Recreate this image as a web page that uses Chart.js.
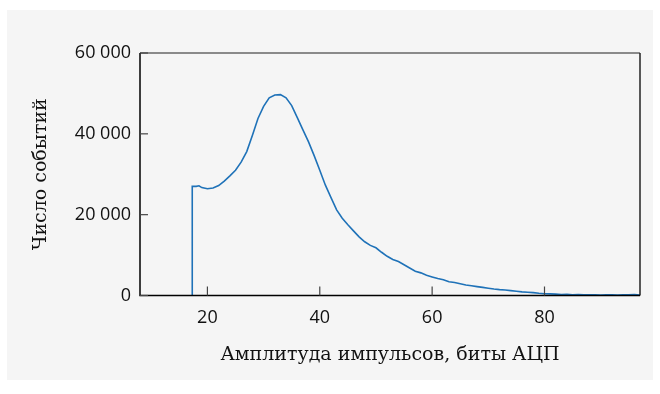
<!DOCTYPE html>
<html>
<head>
<meta charset="utf-8">
<script src="https://cdn.jsdelivr.net/npm/chart.js@4/dist/chart.umd.min.js"></script>
<style>
  body { margin: 0; background: #fff; }
  #panel { position: absolute; left: 7px; top: 10px; width: 646px; height: 370px; background: #f5f5f5; }
</style>
</head>
<body>
<div id="panel"><canvas id="chart" width="646" height="370"></canvas></div>
<script>
// amplitude (ADC bits) and event counts
const amplitude = [17.3, 17.3, 18, 18.5, 19, 20, 21, 22, 23, 24, 25, 26, 27, 28, 29, 30, 31, 32, 33, 34, 35, 36, 37, 38, 39, 40,
  41, 42, 43, 44, 45, 46, 47, 48, 49, 50, 51, 52, 53, 54, 55, 56, 57, 58, 59, 60,
  61, 62, 63, 64, 65, 66, 67, 68, 69, 70, 71, 72, 73, 74, 75, 76, 77, 78, 79, 80,
  81, 82, 83, 84, 85, 86, 87, 88, 89, 90, 91, 92, 93, 94, 95, 96, 97]
const events = [0, 27000, 27000, 27150, 26700, 26400, 26600, 27200, 28300, 29600, 31000, 33000, 35600, 39600, 43800, 46800, 48900, 49600, 49700, 48900, 47000, 44000, 41000, 38000, 34600, 31000,
  27300, 24200, 21200, 19100, 17500, 16000, 14500, 13300, 12400, 11800, 10700, 9700, 8900, 8400, 7600, 6800, 6000, 5600, 5000, 4600,
  4200, 3900, 3400, 3200, 2900, 2600, 2400, 2200, 2000, 1800, 1600, 1450, 1350, 1200, 1050, 900, 800, 700, 550, 450,
  400, 350, 250, 300, 200, 250, 150, 200, 150, 100, 200, 150, 100, 200, 150, 250, 100]
const xTicks = [20, 40, 60, 80]
const yTicks = [0, 20000, 40000, 60000]

const fmt = v => String(v).replace(/\B(?=(\d{3})+(?!\d))/g, ' ')

// box around the plot area plus the short inward ticks
const frame = {
  id: 'frame',
  afterDraw(chart) {
    const { ctx, chartArea: a, scales: { x, y } } = chart
    ctx.save()
    ctx.lineWidth = 1.5
    ctx.strokeStyle = '#666'
    ctx.beginPath(); ctx.moveTo(a.left, a.top); ctx.lineTo(a.right, a.top); ctx.stroke()
    ctx.strokeStyle = '#222'
    ctx.beginPath(); ctx.moveTo(a.right, a.top); ctx.lineTo(a.right, a.bottom); ctx.stroke()
    ctx.strokeStyle = '#000'
    ctx.beginPath(); ctx.moveTo(a.left, a.top); ctx.lineTo(a.left, a.bottom); ctx.lineTo(a.right, a.bottom); ctx.stroke()
    ctx.lineWidth = 1.2
    ctx.strokeStyle = '#444'
    xTicks.forEach(t => {
      const px = x.getPixelForValue(t)
      ctx.beginPath(); ctx.moveTo(px, a.bottom); ctx.lineTo(px, a.bottom - 9); ctx.stroke()
    })
    yTicks.forEach(t => {
      const py = y.getPixelForValue(t)
      ctx.beginPath(); ctx.moveTo(a.left, py); ctx.lineTo(a.left + 8, py); ctx.stroke()
    })
    ctx.restore()
  }
}

new Chart('chart', {
  type: 'line',
  data: {
    datasets: [{
      data: amplitude.map((a, i) => ({ x: a, y: events[i] })),
      borderColor: '#1f72b8',
      borderWidth: 1.6,
      pointRadius: 0,
      tension: 0,
      fill: false
    }]
  },
  options: {
    responsive: false,
    animation: false,
    events: [],
    layout: { padding: { left: 0, right: 13, top: 43, bottom: 0 } },
    plugins: { legend: { display: false }, tooltip: { enabled: false } },
    scales: {
      x: {
        type: 'linear',
        min: 8,
        max: 97,
        afterBuildTicks: s => { s.ticks = xTicks.map(v => ({ value: v })) },
        afterFit: s => { s.height = 84.5 },
        grid: { display: false, drawTicks: false },
        border: { display: false },
        ticks: {
          padding: 12,
          color: '#111',
          font: { family: 'Open Sans', size: 18 },
          maxRotation: 0
        },
        title: {
          display: true,
          text: 'Амплитуда импульсов, биты АЦП',
          color: '#111',
          font: { family: 'DejaVu Serif', size: 19 },
          padding: { top: 0, bottom: 14 }
        }
      },
      y: {
        min: 0,
        max: 60000,
        afterBuildTicks: s => { s.ticks = yTicks.map(v => ({ value: v })) },
        afterFit: s => { s.width = 133 },
        grid: { display: false, drawTicks: false },
        border: { display: false },
        ticks: {
          padding: 9,
          color: '#111',
          font: { family: 'Open Sans', size: 18 },
          callback: v => fmt(v)
        },
        title: {
          display: true,
          text: 'Число событий',
          color: '#111',
          font: { family: 'DejaVu Serif', size: 19 },
          padding: { top: 23, bottom: 0 }
        }
      }
    }
  },
  plugins: [frame]
})
</script>
</body>
</html>
